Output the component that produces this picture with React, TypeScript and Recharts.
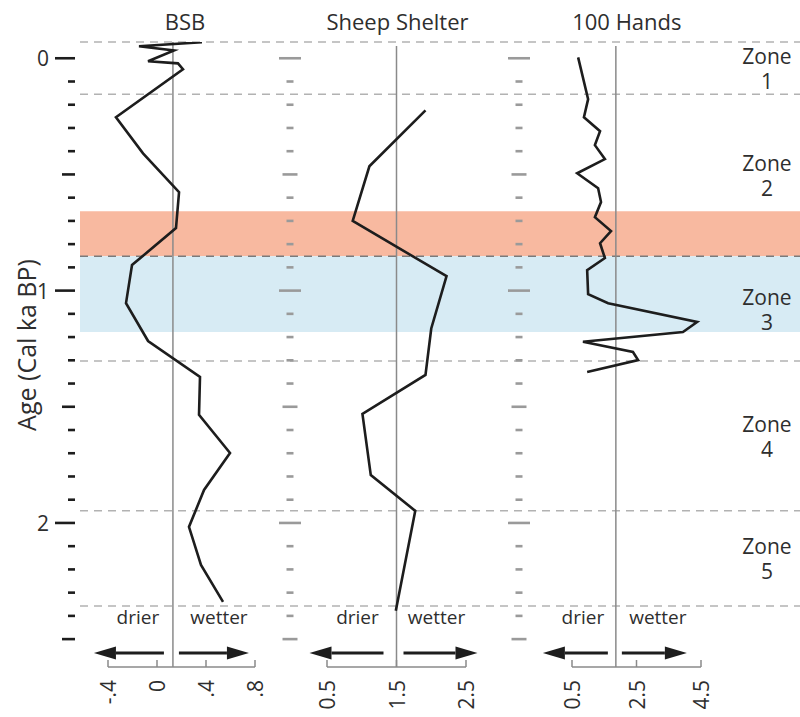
import { Line, LineChart, ReferenceArea, ReferenceLine, XAxis, YAxis } from "recharts";

// ---- data ----
const ageTicks = [0, 0.1, 0.2, 0.3, 0.4, 0.5, 0.6, 0.7, 0.8, 0.9, 1, 1.1, 1.2, 1.3, 1.4, 1.5, 1.6, 1.7, 1.8, 1.9, 2, 2.1, 2.2, 2.3, 2.4, 2.5];

const bsbAge = [-0.069, -0.052, -0.034, 0.013, 0.022, 0.047, 0.254, 0.409, 0.576, 0.731, 0.89, 1.054, 1.217, 1.372, 1.535, 1.699, 1.858, 2.017, 2.181, 2.34];
const bsbValue = [0.367, -0.147, 0.139, -0.073, 0.171, 0.212, -0.335, -0.114, 0.18, 0.155, -0.204, -0.253, -0.073, 0.351, 0.343, 0.596, 0.384, 0.261, 0.359, 0.539];

const sheepAge = [0.224, 0.465, 0.7, 0.938, 1.163, 1.363, 1.531, 1.794, 1.948, 2.378];
const sheepValue = [1.917, 1.11, 0.87, 2.22, 2.0, 1.917, 1.01, 1.13, 1.77, 1.49];

const handsAge = [-0.004, 0.176, 0.254, 0.314, 0.374, 0.434, 0.495, 0.559, 0.619, 0.684, 0.744, 0.796, 0.86, 0.912, 1.015, 1.054, 1.135, 1.178, 1.22, 1.264, 1.299, 1.35];
const handsValue = [0.69, 1.0, 0.87, 1.37, 1.21, 1.52, 0.66, 1.31, 1.4, 1.21, 1.71, 1.37, 1.52, 0.97, 1.0, 1.62, 4.38, 3.94, 0.84, 2.39, 2.55, 0.97];

const bsbTicks = [-0.4, 0, 0.4, 0.8];
const sheepTicks = [0.5, 1.5, 2.5];
const handsTicks = [0.5, 2.5, 4.5];

// zone boundaries (age) and names
const zoneBounds = [-0.07, 0.155, 0.852, 1.303, 1.948, 2.357];
const zoneNames = ["1", "2", "3", "4", "5"];
const dryBand = [0.658, 0.852];
const wetBand = [0.852, 1.178];

const AGE_MIN = -0.07;
const AGE_MAX = 2.62;

const W = 800;
const H = 717;
const TOP = 42;
const BOTTOM = 667;
const Y_W = 40;
const X_H = 40;

const zip = (ages: number[], values: number[]) => ages.map((age, i) => ({ age, value: values[i] }));

const fmtBsb = (v: number) => (v === 0 ? "0" : (v < 0 ? "-" : "") + String(Math.abs(v)).replace(/^0/, ""));
const fmtOne = (v: number) => v.toFixed(1);

type Panel = {
  key: string;
  title: string;
  data: { age: number; value: number }[];
  domain: [number, number];
  ticks: number[];
  fmt: (v: number) => string;
  ref: number;
  refTop: number;
  left: number;
  right: number;
  primary: boolean;
  tickX: number;
  titleDx: number;
  drierDx: number;
  wetterDx: number;
  arrows: [number, number, number, number];
};

const panels: Panel[] = [
  {
    key: "bsb", title: "BSB", data: zip(bsbAge, bsbValue), domain: [-0.4, 0.8], ticks: bsbTicks, fmt: fmtBsb,
    ref: 0.13, refTop: AGE_MIN, left: 108, right: 255, primary: true, tickX: 75,
    titleDx: 12, drierDx: -35, wetterDx: 46, arrows: [9, 79, 6, 76],
  },
  {
    key: "sheep", title: "Sheep Shelter", data: zip(sheepAge, sheepValue), domain: [0.5, 2.5], ticks: sheepTicks, fmt: fmtOne,
    ref: 1.5, refTop: -0.053, left: 327, right: 466, primary: false, tickX: 290,
    titleDx: 1, drierDx: -39, wetterDx: 40, arrows: [13, 87, 7, 81],
  },
  {
    key: "hands", title: "100 Hands", data: zip(handsAge, handsValue), domain: [0.5, 4.5], ticks: handsTicks, fmt: fmtOne,
    ref: 1.86, refTop: -0.053, left: 572, right: 701, primary: false, tickX: 519,
    titleDx: 11, drierDx: -33, wetterDx: 42, arrows: [8, 73, 6, 71],
  },
];

const FONT = "'Open Sans', sans-serif";
const INK = "#1d1d1d";
const TEXT = "#2e2e2e";

function AgeTick(props: any) {
  const { y, payload, panel } = props;
  const v = payload.value as number;
  const major = Math.abs(v - Math.round(v)) < 1e-6;
  const half = !major && Math.abs(v * 2 - Math.round(v * 2)) < 1e-6;
  if (panel.primary) {
    const len = major ? 20 : half ? 13 : 7;
    return (
      <g>
        <line x1={panel.tickX - len} x2={panel.tickX} y1={y} y2={y} stroke={INK} strokeWidth={2.6} />
        {major && (
          <text x={49} y={y} textAnchor="end" dominantBaseline="central" fontSize={21} fill={TEXT} fontFamily={FONT}>
            {v}
          </text>
        )}
      </g>
    );
  }
  const len = major ? 22 : half ? 15 : 7;
  return <line x1={panel.tickX - len / 2} x2={panel.tickX + len / 2} y1={y} y2={y} stroke="#9a9a9a" strokeWidth={2.6} />;
}

function ValueTick(props: any) {
  const { x, y, payload, fmt } = props;
  const ty = y + 13;
  return (
    <g>
      <line x1={x} x2={x} y1={y} y2={y - 7} stroke="#8a8a8a" strokeWidth={1.5} />
      <text
        x={x}
        y={ty}
        transform={`rotate(-90 ${x} ${ty})`}
        textAnchor="end"
        dominantBaseline="central"
        fontSize={21}
        fill={TEXT}
        fontFamily={FONT}
      >
        {fmt(payload.value)}
      </text>
    </g>
  );
}

function Arrow({ from, to, y }: { from: number; to: number; y: number }) {
  const dir = to > from ? 1 : -1;
  const base = to - dir * 22;
  return (
    <g>
      <line x1={from} x2={base} y1={y} y2={y} stroke={INK} strokeWidth={3} />
      <polygon points={`${to},${y} ${base},${y - 6.5} ${base},${y + 6.5}`} fill={INK} />
    </g>
  );
}

function PanelMarks(props: any) {
  const { viewBox, panel } = props;
  const lx = viewBox.x;
  const textY = BOTTOM - 50;
  const arrowY = BOTTOM - 14;
  const [lTail, lTip, rTail, rTip] = panel.arrows;
  return (
    <g fontFamily={FONT}>
      <text x={lx + panel.titleDx} y={21} textAnchor="middle" dominantBaseline="central" fontSize={22} fill={TEXT}>
        {panel.title}
      </text>
      <text x={lx + panel.drierDx} y={textY} textAnchor="middle" dominantBaseline="central" fontSize={19} fill={TEXT}>
        drier
      </text>
      <text x={lx + panel.wetterDx} y={textY} textAnchor="middle" dominantBaseline="central" fontSize={19} fill={TEXT}>
        wetter
      </text>
      <Arrow from={lx - lTail} to={lx - lTip} y={arrowY} />
      <Arrow from={lx + rTail} to={lx + rTip} y={arrowY} />
    </g>
  );
}

function ZoneLabel(props: any) {
  const { viewBox, name } = props;
  const cx = viewBox.x + viewBox.width - 33;
  const cy = viewBox.y + viewBox.height / 2;
  return (
    <text x={cx} y={cy - 12} textAnchor="middle" dominantBaseline="central" fontFamily={FONT} fontSize={21} fill={TEXT}>
      <tspan x={cx} y={cy - 12}>
        Zone
      </tspan>
      <tspan x={cx} y={cy + 13}>
        {name}
      </tspan>
    </text>
  );
}

function AgeTitle() {
  return (
    <text
      x={26}
      y={345}
      transform="rotate(-90 26 345)"
      textAnchor="middle"
      dominantBaseline="central"
      fontSize={25}
      fill={TEXT}
      fontFamily={FONT}
    >
      Age (Cal ka BP)
    </text>
  );
}

const layer: React.CSSProperties = { position: "absolute", left: 0, top: 0 };

export default function App() {
  const zones = zoneNames.map((name, i) => ({ name, y1: zoneBounds[i], y2: zoneBounds[i + 1] }));
  return (
    <div style={{ position: "absolute", left: 0, top: 0, width: W, height: H, background: "#fff", fontFamily: FONT }}>
      {/* background: bands, zone lines, zone labels */}
      <div style={layer}>
        <LineChart width={W} height={H} layout="vertical" data={[{ x: 0, age: 0 }]} margin={{ top: TOP, bottom: H - BOTTOM, left: 80, right: 0 }}>
          <XAxis type="number" dataKey="x" domain={[0, 1]} hide />
          <YAxis type="number" dataKey="age" domain={[AGE_MIN, AGE_MAX]} allowDataOverflow hide />
          <ReferenceArea y1={dryBand[0]} y2={dryBand[1]} fill="#f8b9a0" fillOpacity={1} stroke="none" />
          <ReferenceArea y1={wetBand[0]} y2={wetBand[1]} fill="#d7ebf4" fillOpacity={1} stroke="none" />
          {zones.map((z) => (
            <ReferenceArea
              key={z.name}
              y1={z.y1}
              y2={z.y2}
              fillOpacity={0}
              stroke="none"
              label={(p: any) => <ZoneLabel {...p} name={z.name} />}
            />
          ))}
          {zoneBounds.map((b) => (
            <ReferenceLine
              key={b}
              y={b}
              stroke={b === wetBand[0] ? "#7a7a7a" : "#b2b2b2"}
              strokeWidth={1.5}
              strokeDasharray="8 6"
            />
          ))}
        </LineChart>
      </div>

      {panels.map((panel) => (
        <div key={panel.key} style={layer}>
          <LineChart
            width={W}
            height={H}
            layout="vertical"
            data={panel.data}
            margin={{ top: TOP, bottom: H - BOTTOM - X_H, left: panel.left - Y_W, right: W - panel.right }}
          >
            <XAxis
              type="number"
              dataKey="value"
              domain={panel.domain}
              ticks={panel.ticks}
              interval={0}
              allowDataOverflow
              height={X_H}
              tickSize={0}
              tickMargin={0}
              tickLine={false}
              axisLine={{ stroke: "#8a8a8a", strokeWidth: 1.5 }}
              tick={(p: any) => <ValueTick {...p} fmt={panel.fmt} />}
            />
            <YAxis
              type="number"
              dataKey="age"
              domain={[AGE_MIN, AGE_MAX]}
              allowDataOverflow
              ticks={ageTicks}
              interval={0}
              width={Y_W}
              tickSize={0}
              tickMargin={0}
              tickLine={false}
              axisLine={false}
              tick={(p: any) => <AgeTick {...p} panel={panel} />}
              label={panel.primary ? () => <AgeTitle /> : undefined}
            />
            <ReferenceLine
              segment={[
                { x: panel.ref, y: panel.refTop },
                { x: panel.ref, y: AGE_MAX },
              ]}
              stroke="#8a8a8a"
              strokeWidth={1.5}
              label={(p: any) => <PanelMarks {...p} panel={panel} />}
            />
            <Line
              type="linear"
              dataKey="value"
              stroke={INK}
              strokeWidth={2.6}
              dot={false}
              isAnimationActive={false}
            />
          </LineChart>
        </div>
      ))}
    </div>
  );
}
